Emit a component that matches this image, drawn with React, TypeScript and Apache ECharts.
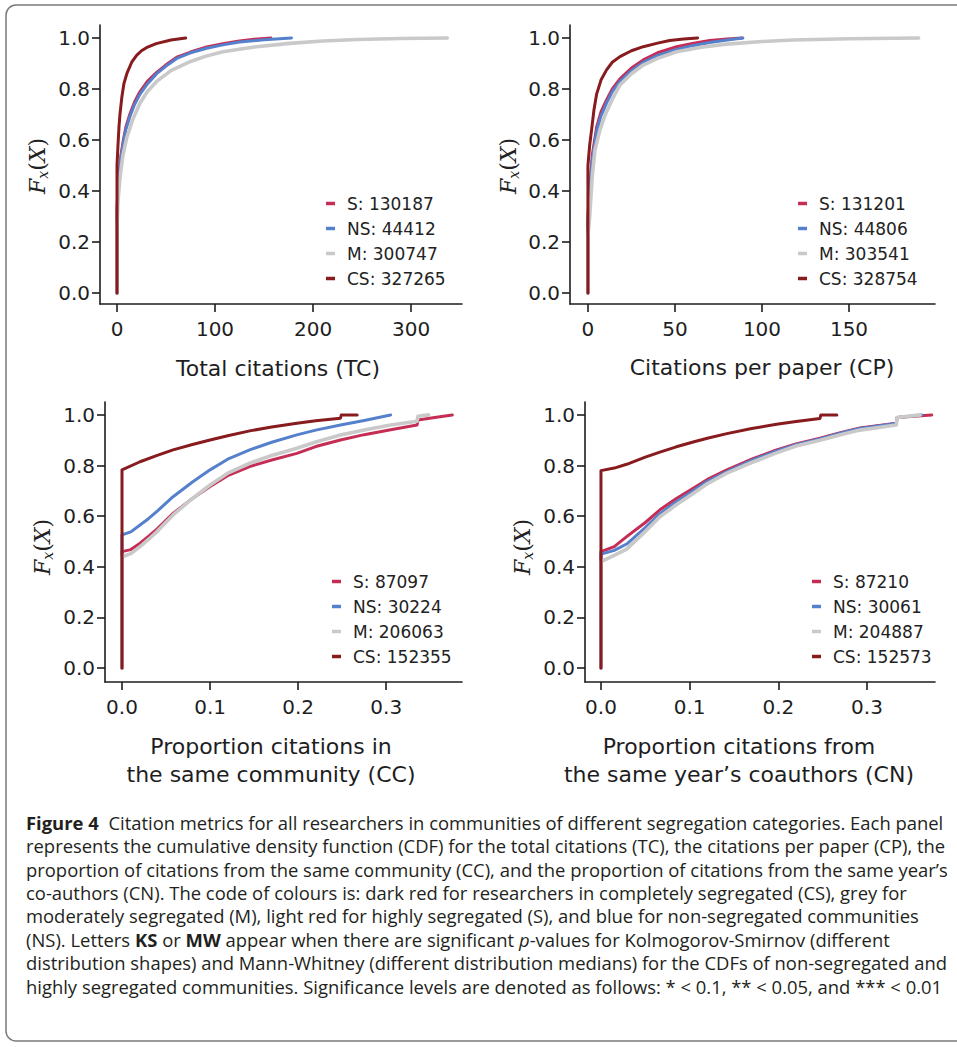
import React, { useEffect, useRef } from "react";
import * as echarts from "echarts";

const W = 957;
const H = 1047;

const COLORS = ["#c62d55", "#5580cc", "#c9c9c9", "#871b1e"];
const Y_TICKS = [0, 0.2, 0.4, 0.6, 0.8, 1.0];

// ---- Panel 1: Total citations (TC)
const tcLegend = ["S: 130187", "NS: 44412", "M: 300747", "CS: 327265"];
const tcTicks = [0, 100, 200, 300];
const tcS = [[0,0],[0,0.33],[1,0.42],[2.4,0.48],[4,0.54],[6.5,0.6],[9,0.65],[13,0.7],[18,0.75],[23.5,0.79],[31,0.83],[40.5,0.865],[50,0.895],[61,0.925],[75,0.945],[91.5,0.965],[108,0.978],[125,0.988],[140,0.995],[157,1.0]];
const tcNS = [[0,0],[0,0.3],[1,0.4],[2.4,0.47],[4,0.53],[6.5,0.59],[9,0.64],[13,0.69],[18,0.74],[23.5,0.78],[31,0.82],[40.5,0.86],[50,0.89],[61,0.92],[75,0.942],[91.5,0.96],[108,0.973],[125,0.984],[150,0.993],[178,1.0]];
const tcM = [[0,0],[0,0.25],[1,0.36],[3,0.45],[6,0.54],[10,0.61],[16,0.68],[23.5,0.745],[31,0.79],[40.5,0.83],[55,0.872],[74.5,0.907],[90,0.928],[108,0.946],[140,0.965],[176,0.979],[210,0.988],[245,0.994],[290,0.998],[337,1.0]];
const tcCS = [[0,0],[0,0.5],[1,0.58],[2,0.65],[3,0.7],[5,0.77],[7,0.82],[10,0.86],[15,0.905],[20,0.932],[25,0.95],[30,0.962],[40,0.978],[55,0.992],[70,1.0]];

// ---- Panel 2: Citations per paper (CP)
const cpLegend = ["S: 131201", "NS: 44806", "M: 303541", "CS: 328754"];
const cpTicks = [0, 50, 100, 150];
const cpS = [[0,0],[0,0.3],[1.1,0.42],[2.5,0.54],[5,0.65],[7.5,0.71],[10.7,0.757],[14,0.8],[18.4,0.84],[25,0.882],[31.8,0.914],[40,0.942],[51,0.966],[60,0.979],[70,0.99],[80,0.996],[88.5,1.0]];
const cpNS = [[0,0],[0,0.28],[1.1,0.4],[2.5,0.52],[5,0.635],[7.5,0.695],[10.7,0.745],[14,0.79],[18.4,0.83],[25,0.872],[31.8,0.905],[40,0.932],[51,0.955],[60,0.97],[70,0.982],[80,0.992],[89,1.0]];
const cpM = [[0,0],[0,0.22],[1,0.3],[2.5,0.46],[4,0.56],[6.9,0.64],[10,0.7],[14,0.76],[18.4,0.816],[25,0.86],[31.8,0.894],[40,0.92],[51,0.946],[65,0.964],[79.7,0.976],[100,0.986],[118,0.992],[150,0.997],[190,1.0]];
const cpCS = [[0,0],[0,0.5],[1,0.58],[2.1,0.64],[3.5,0.72],[5,0.78],[7.5,0.835],[10.7,0.875],[14,0.905],[18.4,0.927],[25,0.95],[31.8,0.966],[40,0.98],[47,0.99],[55,0.996],[63,1.0]];

// ---- Panel 3: Proportion citations in the same community (CC)
const ccLegend = ["S: 87097", "NS: 30224", "M: 206063", "CS: 152355"];
const ccTicks = [0, 0.1, 0.2, 0.3];
const ccS = [[0,0],[0,0.46],[0.01,0.468],[0.0205,0.493],[0.03,0.52],[0.04,0.55],[0.058,0.611],[0.08,0.67],[0.1,0.717],[0.12,0.76],[0.145,0.796],[0.17,0.822],[0.1985,0.848],[0.22,0.875],[0.248,0.901],[0.275,0.922],[0.305,0.941],[0.335,0.96],[0.336,0.98],[0.355,0.99],[0.375,1.0]];
const ccNS = [[0,0],[0,0.526],[0.01,0.538],[0.0205,0.565],[0.03,0.59],[0.04,0.62],[0.058,0.677],[0.08,0.735],[0.1,0.783],[0.12,0.825],[0.145,0.862],[0.17,0.892],[0.1985,0.921],[0.22,0.94],[0.248,0.96],[0.275,0.978],[0.305,1.0]];
const ccM = [[0,0],[0,0.44],[0.01,0.452],[0.0205,0.48],[0.03,0.508],[0.04,0.54],[0.058,0.605],[0.08,0.67],[0.1,0.723],[0.12,0.77],[0.145,0.809],[0.17,0.84],[0.1985,0.868],[0.22,0.893],[0.248,0.921],[0.275,0.94],[0.305,0.96],[0.335,0.975],[0.336,0.995],[0.348,1.0]];
const ccCS = [[0,0],[0,0.783],[0.0205,0.815],[0.04,0.84],[0.058,0.862],[0.08,0.883],[0.1,0.901],[0.12,0.918],[0.145,0.937],[0.17,0.952],[0.1985,0.967],[0.22,0.977],[0.248,0.987],[0.249,1.0],[0.267,1.0]];

// ---- Panel 4: Proportion citations from the same year's coauthors (CN)
const cnLegend = ["S: 87210", "NS: 30061", "M: 204887", "CS: 152573"];
const cnTicks = [0, 0.1, 0.2, 0.3];
const cnS = [[0,0],[0,0.46],[0.015,0.48],[0.029,0.519],[0.05,0.575],[0.0665,0.625],[0.085,0.67],[0.104,0.71],[0.12,0.745],[0.142,0.783],[0.17,0.825],[0.198,0.862],[0.22,0.885],[0.247,0.908],[0.27,0.93],[0.292,0.948],[0.333,0.967],[0.334,0.99],[0.373,1.0]];
const cnNS = [[0,0],[0,0.45],[0.015,0.465],[0.029,0.49],[0.05,0.555],[0.0665,0.61],[0.085,0.657],[0.104,0.7],[0.12,0.738],[0.142,0.776],[0.17,0.82],[0.198,0.858],[0.22,0.882],[0.247,0.905],[0.27,0.928],[0.292,0.946],[0.333,0.966],[0.334,0.99],[0.362,1.0]];
const cnM = [[0,0],[0,0.42],[0.015,0.445],[0.029,0.47],[0.05,0.54],[0.0665,0.598],[0.085,0.645],[0.104,0.69],[0.12,0.728],[0.142,0.77],[0.17,0.812],[0.198,0.85],[0.22,0.877],[0.247,0.9],[0.27,0.922],[0.292,0.94],[0.333,0.96],[0.334,0.99],[0.36,1.0]];
const cnCS = [[0,0],[0,0.78],[0.015,0.79],[0.029,0.805],[0.05,0.833],[0.0665,0.853],[0.085,0.874],[0.104,0.893],[0.12,0.908],[0.142,0.926],[0.17,0.946],[0.198,0.963],[0.22,0.974],[0.247,0.986],[0.248,1.0],[0.266,1.0]];

const tcTitle = ["Total citations (TC)"];
const cpTitle = ["Citations per paper (CP)"];
const ccTitle = ["Proportion citations in", "the same community (CC)"];
const cnTitle = ["Proportion citations from", "the same year\u2019s coauthors (CN)"];

const captionLines = [
  "{b|Figure 4}{n|  Citation metrics for all researchers in communities of different segregation categories. Each panel}",
  "{n|represents the cumulative density function (CDF) for the total citations (TC), the citations per paper (CP), the}",
  "{n|proportion of citations from the same community (CC), and the proportion of citations from the same year\u2019s}",
  "{n|co-authors (CN). The code of colours is: dark red for researchers in completely segregated (CS), grey for}",
  "{n|moderately segregated (M), light red for highly segregated (S), and blue for non-segregated communities}",
  "{n|(NS). Letters }{b|KS}{n| or }{b|MW}{n| appear when there are significant }{i|p}{n|-values for Kolmogorov-Smirnov (different}",
  "{n|distribution shapes) and Mann-Whitney (different distribution medians) for the CDFs of non-segregated and}",
  "{n|highly segregated communities. Significance levels are denoted as follows: * < 0.1, ** < 0.05, and *** < 0.01}",
];

// layout (pixels)
const panels = [
  { series: [tcS, tcNS, tcM, tcCS], legend: tcLegend, ticks: tcTicks, dec: 0, title: tcTitle,
    box: [100, 25, 462, 304], xMin: -17.35, xMax: 352, yMin: -0.043, yMax: 1.051,
    legendPos: [326, 191], titlePos: [278, 368], yLabelPos: [37, 166] },
  { series: [cpS, cpNS, cpM, cpCS], legend: cpLegend, ticks: cpTicks, dec: 0, title: cpTitle,
    box: [570, 25, 935, 304], xMin: -10.3, xMax: 199.4, yMin: -0.043, yMax: 1.051,
    legendPos: [798, 191], titlePos: [762, 367], yLabelPos: [508, 166] },
  { series: [ccS, ccNS, ccM, ccCS], legend: ccLegend, ticks: ccTicks, dec: 1, title: ccTitle,
    box: [105, 402, 462, 682], xMin: -0.0193, xMax: 0.386, yMin: -0.055, yMax: 1.051,
    legendPos: [332, 569], titlePos: [271, 746], yLabelPos: [42, 547] },
  { series: [cnS, cnNS, cnM, cnCS], legend: cnLegend, ticks: cnTicks, dec: 1, title: cnTitle,
    box: [585, 402, 935, 682], xMin: -0.018, xMax: 0.3767, yMin: -0.055, yMax: 1.051,
    legendPos: [812, 569], titlePos: [739, 746], yLabelPos: [522, 547] },
];

const AX = "#1e1e1e";
const CAP_FONT = "Open Sans";
const CAP_SIZE = 17.5;

export default function App() {
  const ref = useRef<HTMLDivElement>(null);

  useEffect(() => {
    if (!ref.current) return;
    const chart = echarts.init(ref.current, null, { renderer: "svg", width: W, height: H });

    let capScale = 0.85;
    try {
      const cv = document.createElement("canvas");
      const ctx = cv.getContext("2d");
      if (ctx) {
        ctx.font = `bold ${CAP_SIZE}px "${CAP_FONT}"`;
        const w1 = ctx.measureText("Figure 4").width;
        ctx.font = `${CAP_SIZE}px "${CAP_FONT}"`;
        const w2 = ctx.measureText("  Citation metrics for all researchers in communities of different segregation categories. Each panel").width;
        capScale = 918 / (w1 + w2);
      }
    } catch (e) {}

    const grid: any[] = [];
    const xAxis: any[] = [];
    const yAxis: any[] = [];
    const legend: any[] = [];
    const series: any[] = [];
    const graphic: any[] = [];

    graphic.push({
      type: "rect",
      shape: { x: 6, y: 5, width: 980, height: 1036, r: 10 },
      style: { fill: "none", stroke: "#7a7a7a", lineWidth: 1.5 },
      silent: true,
    });

    panels.forEach((p, i) => {
      const [l, t, r, b] = p.box;
      grid.push({ left: l, top: t, width: r - l, height: b - t });
      xAxis.push({
        type: "value", gridIndex: i, min: p.xMin, max: p.xMax,
        axisLine: { show: true, onZero: false, lineStyle: { color: AX, width: 1.6 } },
        axisTick: { show: true, customValues: p.ticks, length: 8, lineStyle: { color: AX, width: 1.6 } },
        axisLabel: { customValues: p.ticks, formatter: (v: number) => v.toFixed(p.dec), fontSize: 20, color: AX, fontFamily: "DejaVu Sans", margin: 15 },
        splitLine: { show: false },
      });
      yAxis.push({
        type: "value", gridIndex: i, min: p.yMin, max: p.yMax,
        axisLine: { show: true, onZero: false, lineStyle: { color: AX, width: 1.6 } },
        axisTick: { show: true, customValues: Y_TICKS, length: 8, lineStyle: { color: AX, width: 1.6 } },
        axisLabel: { customValues: Y_TICKS, formatter: (v: number) => v.toFixed(1), fontSize: 20, color: AX, fontFamily: "DejaVu Sans", margin: 10 },
        splitLine: { show: false },
      });
      legend.push({
        data: p.legend, left: p.legendPos[0], top: p.legendPos[1], orient: "vertical",
        icon: "rect", itemWidth: 9, itemHeight: 3.5, itemGap: 0, padding: 0, selectedMode: false,
        textStyle: { fontSize: 17, color: "#222", fontFamily: "DejaVu Sans", lineHeight: 25, padding: [0, 0, 0, 7] },
      });
      p.series.forEach((d, k) => {
        series.push({
          type: "line", name: p.legend[k], xAxisIndex: i, yAxisIndex: i, data: d,
          showSymbol: false, symbol: "none", color: COLORS[k],
          lineStyle: { color: COLORS[k], width: k === 2 ? 3.6 : 3, join: "round", cap: "round" },
          z: 2 + k,
        });
      });
      p.title.forEach((line, j) => {
        graphic.push({
          type: "text", x: p.titlePos[0], y: p.titlePos[1] + j * 28,
          style: { text: line, fontSize: 22, fontFamily: "DejaVu Sans", fill: "#1e1e1e", align: "center", verticalAlign: "middle", textAlign: "center", textVerticalAlign: "middle" },
          silent: true,
        });
      });
      graphic.push({
        type: "text", x: p.yLabelPos[0], y: p.yLabelPos[1], rotation: Math.PI / 2,
        style: {
          text: "{f|F}{s|x}{p|(}{f|X}{p|)}",
          align: "center", verticalAlign: "middle", textAlign: "center", textVerticalAlign: "middle",
          rich: {
            f: { fontFamily: "DejaVu Serif", fontStyle: "italic", fontSize: 22, fill: "#222", lineHeight: 26 },
            s: { fontFamily: "DejaVu Serif", fontStyle: "italic", fontSize: 14, fill: "#222", lineHeight: 14, verticalAlign: "bottom" },
            p: { fontFamily: "DejaVu Serif", fontSize: 22, fill: "#222", lineHeight: 26 },
          },
        },
        silent: true,
      });
    });

    const capRich = {
      n: { fontFamily: CAP_FONT, fontSize: CAP_SIZE, fill: "#231f20" },
      b: { fontFamily: CAP_FONT, fontSize: CAP_SIZE, fontWeight: "bold", fill: "#231f20" },
      i: { fontFamily: CAP_FONT, fontSize: CAP_SIZE, fontStyle: "italic", fill: "#231f20" },
    };
    captionLines.forEach((line, j) => {
      graphic.push({
        type: "text", x: 26, y: 823 + j * 23.4, scaleX: capScale,
        style: { text: line, rich: capRich, fontFamily: CAP_FONT, fontSize: CAP_SIZE, fill: "#231f20", align: "left", verticalAlign: "middle", textAlign: "left", textVerticalAlign: "middle" },
        silent: true,
      });
    });

    chart.setOption({
      animation: false,
      backgroundColor: "#ffffff",
      grid, xAxis, yAxis, legend, series, graphic,
    });

    return () => chart.dispose();
  }, []);

  return (
    <div
      ref={ref}
      style={{ position: "absolute", left: 0, top: 0, width: W, height: H, background: "#fff" }}
    />
  );
}
